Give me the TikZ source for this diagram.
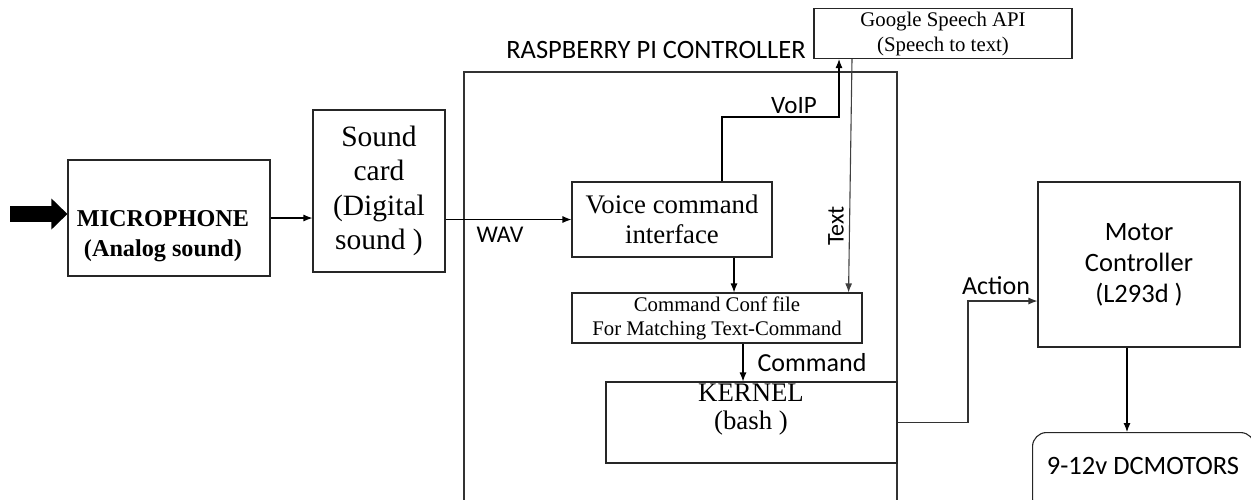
\documentclass[tikz,border=0pt]{standalone}
\usepackage{fontspec}
\setmainfont{Liberation Serif}
\newfontfamily\sansf{Carlito}
\usetikzlibrary{arrows.meta,calc}
\tikzset{
  box/.style={draw=black!85, line width=1.1pt, rectangle, inner sep=0pt, anchor=center},
  txt/.style={inner sep=0pt, align=center, anchor=center},
  arr/.style={draw=black, line width=1.1pt, -{Latex[length=9pt,width=7pt]}},
  lbl/.style={inner sep=0pt, anchor=center, font=\sansf\fontsize{25}{30}\selectfont},
}
\begin{document}
\begin{tikzpicture}[x=1pt,y=-1pt]
\useasboundingbox (0,0) rectangle (1251,499);
\clip (0,0) rectangle (1251,499);
\fill[white] (0,0) rectangle (1251,499);

% Raspberry Pi frame
\draw[black!80, line width=1.1pt] (464,510) -- (464,72) -- (897,72) -- (897,510);
\node[lbl, font=\sansf\fontsize{26.5}{30}\selectfont] (pilabel) at (656,50) {RASPBERRY PI CONTROLLER};

% boxes
\node[box, minimum width=202pt, minimum height=116pt] (mic) at (169,218) {};
\node[txt, font=\bfseries\fontsize{24.2}{30}\selectfont] (mictext) at (163,236) {MICROPHONE\\(Analog sound)};
\node[box, minimum width=132pt, minimum height=162pt, font=\fontsize{29.5}{34.5}\selectfont, align=center] (sound) at (379,191) {Sound\\card\\(Digital\\sound )};
\node[box, minimum width=200pt, minimum height=75pt, font=\fontsize{26.8}{30}\selectfont, align=center] (voice) at (672,219.5) {Voice command\\interface};
\node[box, minimum width=290pt, minimum height=50pt, font=\fontsize{20.8}{24}\selectfont, align=center] (conf) at (717,318) {Command Conf file\\For Matching Text-Command};
\node[box, minimum width=291pt, minimum height=81pt] (kernel) at (751.5,422.5) {};
\node[txt, font=\fontsize{26.8}{28}\selectfont] (kerneltext) at (751,410) {KERNEL\\(bash )};
\node[box, fill=white, minimum width=258pt, minimum height=50pt, font=\fontsize{20.8}{25}\selectfont, align=center] (google) at (943,33.5) {Google Speech API\\(Speech to text)};
\node[box, minimum width=202pt, minimum height=165pt, font=\sansf\fontsize{26.5}{31}\selectfont, align=center] (motor) at (1139,264.5) {Motor\\Controller\\(L293d )};
\node[box, rounded corners=14pt, minimum width=222pt, minimum height=80pt, anchor=north west] (dc) at (1032,432) {};
\node[txt, font=\sansf\fontsize{26.5}{30}\selectfont] (dctext) at (1143,466) {9-12v DCMOTORS};

% thick input arrow
\coordinate (src) at (10,214);
\draw[line width=16pt, -{Triangle[length=16pt,width=30pt]}] (src) -- (src -| mic.west);

% connectors
\draw[arr] (mic.east) -- (sound.west |- mic.east);
\draw[arr] (voice.west -| sound.east) -- (voice.west);
\node[lbl, font=\sansf\fontsize{24}{28}\selectfont] (wav) at (500,235) {WAV};

\coordinate (voipbend) at (839,117);
\draw[arr] ($(voice.north)+(50,0)$) |- (voipbend) -- (voipbend |- google.south);
\node[lbl] (voip) at (794,106) {VoIP};

\draw[arr, draw=black!75] ([xshift=-91pt]google.south) -- ([xshift=-14pt]conf.north east);
\node[lbl, font=\sansf\fontsize{24}{28}\selectfont, rotate=90] (textlbl) at (836,226) {Text};

\draw[arr] ([xshift=62pt]voice.south) -- ([xshift=62pt]voice.south |- conf.north);
\draw[arr] ([xshift=26pt]conf.south) -- ([xshift=26pt]conf.south |- kernel.north);
\node[lbl, font=\sansf\fontsize{26}{30}\selectfont] (cmdlbl) at (812,363) {Command};

\coordinate (actbend) at (968,301);
\draw[arr, draw=black!80] (kernel.east) -| (actbend) -- (actbend -| motor.west);
\node[lbl, font=\sansf\fontsize{26}{30}\selectfont] (action) at (996,286) {Action};

\draw[arr] ([xshift=-12pt]motor.south) -- ([xshift=-12pt]motor.south |- dc.north);
\end{tikzpicture}
\end{document}
